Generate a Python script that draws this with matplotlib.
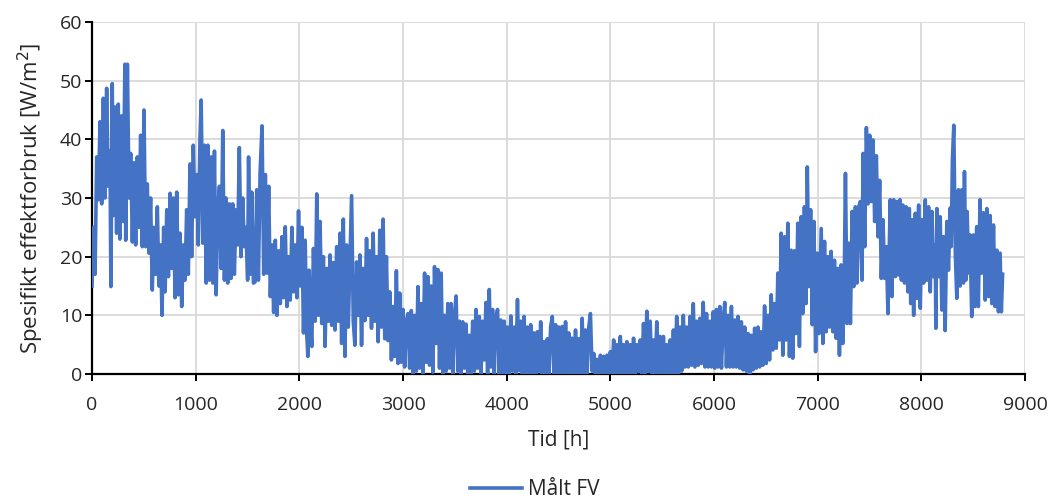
import matplotlib
matplotlib.use("Agg")
import matplotlib.pyplot as plt

# Timer i året [h] og avlest spesifikt effektforbruk [W/m2] (topper og bunner lest av figuren)
timer = [
    0, 13, 29, 45, 61, 77, 93, 109, 125, 141, 157, 173, 182, 195, 205, 221, 237, 253, 269, 285,
    300, 317, 325, 341, 357, 373, 389, 405, 421, 437, 453, 469, 485, 501, 517, 533, 549, 565, 581, 597,
    613, 630, 645, 661, 675, 691, 705, 721, 737, 753, 769, 785, 801, 817, 833, 849, 865, 881, 897, 913,
    929, 945, 961, 977, 993, 1009, 1025, 1041, 1053, 1069, 1085, 1101, 1117, 1133, 1149, 1165, 1181, 1197, 1213, 1229,
    1245, 1261, 1277, 1293, 1309, 1325, 1341, 1357, 1373, 1389, 1405, 1421, 1437, 1453, 1469, 1485, 1501, 1510, 1525, 1541,
    1557, 1573, 1589, 1605, 1621, 1640, 1656, 1672, 1688, 1704, 1720, 1736, 1752, 1768, 1784, 1800, 1816, 1832, 1848, 1864,
    1880, 1896, 1912, 1928, 1944, 1960, 1976, 1992, 2008, 2024, 2040, 2056, 2072, 2082, 2094, 2110, 2120, 2136, 2152, 2168,
    2184, 2200, 2216, 2232, 2248, 2264, 2280, 2296, 2312, 2328, 2344, 2360, 2376, 2392, 2408, 2424, 2440, 2456, 2472, 2488,
    2504, 2520, 2536, 2552, 2568, 2584, 2600, 2616, 2632, 2648, 2664, 2680, 2696, 2712, 2728, 2744, 2760, 2776, 2792, 2808,
    2824, 2840, 2856, 2872, 2888, 2904, 2920, 2936, 2952, 2968, 2984, 3000, 3016, 3032, 3048, 3064, 3080, 3096, 3112, 3128,
    3144, 3160, 3176, 3192, 3208, 3224, 3240, 3256, 3272, 3288, 3304, 3320, 3336, 3352, 3368, 3384, 3400, 3416, 3432, 3448,
    3464, 3480, 3496, 3512, 3528, 3544, 3560, 3576, 3592, 3608, 3624, 3640, 3656, 3672, 3688, 3704, 3720, 3736, 3752, 3768,
    3784, 3800, 3816, 3832, 3848, 3864, 3880, 3896, 3912, 3928, 3944, 3960, 3976, 3992, 4008, 4024, 4040, 4056, 4072, 4088,
    4104, 4120, 4136, 4152, 4168, 4184, 4200, 4216, 4232, 4248, 4264, 4280, 4296, 4312, 4328, 4344, 4360, 4376, 4392, 4408,
    4424, 4440, 4456, 4472, 4488, 4504, 4520, 4536, 4552, 4568, 4584, 4600, 4616, 4632, 4648, 4664, 4680, 4696, 4712, 4728,
    4744, 4760, 4776, 4792, 4808, 4824, 4840, 4856, 4872, 4888, 4904, 4920, 4936, 4952, 4968, 4984, 5000, 5016, 5032, 5048,
    5064, 5080, 5096, 5112, 5128, 5144, 5160, 5176, 5192, 5208, 5224, 5240, 5256, 5272, 5288, 5304, 5320, 5336, 5352, 5368,
    5384, 5400, 5416, 5432, 5448, 5464, 5480, 5496, 5512, 5528, 5544, 5560, 5576, 5592, 5608, 5624, 5640, 5656, 5672, 5688,
    5704, 5720, 5736, 5752, 5768, 5784, 5800, 5816, 5832, 5848, 5864, 5880, 5896, 5912, 5928, 5944, 5960, 5976, 5992, 6008,
    6024, 6040, 6056, 6072, 6088, 6104, 6120, 6136, 6152, 6168, 6184, 6200, 6216, 6232, 6248, 6264, 6280, 6296, 6312, 6328,
    6344, 6360, 6376, 6392, 6408, 6424, 6440, 6456, 6472, 6488, 6504, 6520, 6536, 6552, 6568, 6584, 6600, 6616, 6632, 6648,
    6664, 6680, 6696, 6712, 6728, 6744, 6760, 6776, 6792, 6808, 6824, 6840, 6856, 6872, 6888, 6900, 6916, 6932, 6948, 6964,
    6980, 6996, 7012, 7034, 7050, 7066, 7082, 7098, 7114, 7130, 7146, 7162, 7178, 7194, 7210, 7226, 7242, 7258, 7268, 7284,
    7300, 7316, 7332, 7348, 7364, 7380, 7396, 7412, 7428, 7438, 7454, 7470, 7486, 7502, 7518, 7534, 7550, 7566, 7582, 7598,
    7614, 7630, 7646, 7662, 7678, 7700, 7716, 7734, 7750, 7766, 7780, 7794, 7808, 7822, 7838, 7854, 7870, 7884, 7898, 7910,
    7926, 7942, 7958, 7974, 7990, 8006, 8022, 8038, 8054, 8070, 8086, 8102, 8118, 8134, 8140, 8150, 8166, 8182, 8198, 8214,
    8230, 8246, 8262, 8278, 8288, 8300, 8313, 8328, 8342, 8358, 8374, 8390, 8406, 8416, 8430, 8442, 8456, 8470, 8486, 8502,
    8518, 8534, 8550, 8566, 8582, 8600, 8616, 8632, 8648, 8664, 8680, 8696, 8712, 8728, 8744, 8760, 8772, 8784,
]

effekt = [
    15, 25, 17, 37, 29.7, 43, 29, 47, 30, 48.7, 32, 38, 14.9, 49.5, 27, 45.5, 24, 46, 23, 44,
    26, 52.8, 22.8, 52.8, 30, 37.6, 22.5, 36, 22, 37, 25, 40.7, 21.7, 45, 21.7, 32.4, 20.6, 30, 14.3, 25,
    17, 28.5, 15, 22, 10, 25, 14, 28, 16.6, 30.8, 18, 30, 13, 31, 13.5, 24, 11.5, 22, 16, 28,
    17, 35.8, 20, 39, 26.8, 34, 22, 40, 46.7, 22.3, 39, 15.5, 39, 16, 37, 15.5, 38, 13.5, 28, 32,
    18, 41.5, 16, 30, 15.5, 29, 16.3, 29, 17, 28, 22, 38.6, 20, 30, 21.7, 25, 16, 37, 17, 31,
    15.5, 15.7, 31.4, 16, 34.2, 42.3, 17, 34, 17.2, 32, 13.2, 22, 10.5, 22.8, 10, 21, 12, 23.4, 13, 25.1,
    11.5, 20, 12.6, 25, 14, 22, 13, 27.8, 15, 25, 7, 22.8, 6.6, 3, 17.7, 8, 4.7, 21.4, 9, 30.7,
    10, 26, 8.6, 20, 4.7, 18, 9, 20.3, 8.3, 19, 7.5, 21.7, 9, 24, 5.2, 26.4, 3, 22, 8, 19,
    30.4, 9, 4.9, 19.1, 10, 20.3, 4.9, 18, 9.1, 23.1, 10, 21, 7.8, 24, 9, 20, 5.5, 24.5, 8, 26.4,
    6, 20, 5.7, 14, 2.4, 11.5, 3, 17.6, 1.8, 13.8, 2, 11, 1.2, 9, 10.3, 1, 10.8, 0, 10, 0.5,
    14.9, 1, 12, 0, 17.2, 2, 16.6, 1.5, 15, 0.3, 18.3, 5.2, 17.8, 1, 17.2, 0, 10, 0.5, 12, 1,
    12, 0, 10, 13.3, 0.5, 9, 0, 8.9, 1, 8.5, 0, 6.6, 0, 9, 0.5, 11, 1, 9.8, 0, 9,
    2.4, 12.2, 0, 14.4, 1.2, 11, 0, 9.5, 11, 0, 9.2, 0, 9, 0, 8, 0, 9.9, 0.5, 8, 0,
    12.7, 0.6, 9, 0, 9.8, 0, 8, 0, 8.4, 0, 7, 0, 7.2, 0.5, 8.9, 0, 5.5, 0, 6, 0,
    8, 9.8, 0, 8.4, 0, 8, 0, 8.1, 0, 8.9, 0, 7, 0, 6.1, 0, 7.5, 0, 6, 0, 9.5,
    0, 7.5, 0, 8, 10.3, 0.5, 3.5, 0, 2.5, 0, 3.2, 0, 3, 0, 3.2, 0, 3.8, 0, 5.8, 0,
    5, 0, 6.4, 0, 5, 0, 5.5, 0, 5, 0, 6.1, 0, 5, 0.4, 5.8, 0, 8.6, 0, 10.7, 0.4,
    9, 0, 5.8, 0, 8.9, 0, 6.4, 0, 6.4, 0, 5, 0, 5.8, 0, 7.5, 0, 9.8, 0, 8, 0.5,
    10, 1.2, 8, 1.2, 9.8, 1.5, 12, 1.2, 9, 1.5, 9.5, 1.8, 12.2, 1.2, 10.3, 1.2, 9, 1.2, 10.6, 1,
    11, 1.2, 11.5, 1, 9, 12.2, 1.2, 10, 1.2, 11.5, 1.2, 9.2, 1.2, 9.8, 1, 8.9, 0.7, 8, 0.5, 6.9,
    0, 6.6, 0.7, 7.8, 1, 8, 1.2, 7.2, 1.5, 11.6, 1.8, 10, 2.4, 13.5, 4.1, 12, 4.4, 17.2, 5.8, 24,
    3.2, 23.4, 5.8, 25.7, 3, 21.1, 2.7, 21, 6.9, 25.7, 4.7, 26.8, 10.3, 28.5, 12, 35.3, 14.9, 28, 8.4, 26,
    3.8, 20.6, 6.9, 24.8, 5.2, 22.6, 7.2, 20, 8, 20.9, 7.2, 19.4, 6.1, 18, 3.2, 18.6, 5.2, 18, 34.2, 8.6,
    22.3, 8.6, 27.7, 14.9, 28.5, 15.5, 28.5, 29.4, 16, 37.6, 21.7, 42, 29, 40.7, 29.4, 39.9, 26, 37.2, 23.4, 33,
    16.3, 26.3, 16.3, 21.7, 10.3, 29.7, 13.2, 29.7, 16.6, 29.4, 16.9, 29.7, 16, 28.8, 15.5, 28.5, 14, 28.2, 12, 26.3,
    10, 27.4, 12.9, 28.8, 11.2, 26.3, 15.5, 29.7, 16, 28.5, 14, 27.7, 16.6, 22, 7.8, 28.2, 16.6, 26.8, 10.9, 23.4,
    7.4, 26, 17.7, 28.3, 21.7, 36.5, 42.4, 20.6, 12.9, 31.4, 15, 31.4, 15.5, 34.5, 16, 27.7, 17.2, 23.7, 9.8, 23.7,
    11.5, 25.1, 11.5, 29.7, 17.2, 27.5, 12.6, 28.2, 13.2, 27, 12, 25.4, 11.5, 21.1, 10.6, 20.6, 10.6, 17,
]

x_ticks = [0, 1000, 2000, 3000, 4000, 5000, 6000, 7000, 8000, 9000]
y_ticks = [0, 10, 20, 30, 40, 50, 60]

plt.rcParams['font.family'] = ['Open Sans', 'DejaVu Sans']

fig = plt.figure(figsize=(10.53, 4.99), dpi=100)
ax = fig.add_axes([0.0874, 0.2505, 0.886, 0.7054])

ax.plot(timer, effekt, color='#4472C4', linewidth=2.6, solid_joinstyle='round',
        label='Målt FV', zorder=3)

ax.set_xlim(0, 9000)
ax.set_ylim(0, 60)
ax.set_xticks(x_ticks)
ax.set_yticks(y_ticks)
ax.grid(True, color='#d9d9d9', linewidth=1.3, zorder=0)
ax.set_axisbelow(True)

for side in ['top', 'right']:
    ax.spines[side].set_visible(False)
for side in ['left', 'bottom']:
    ax.spines[side].set_linewidth(1.6)
    ax.spines[side].set_color('black')
ax.tick_params(direction='out', length=5, width=1.4, labelsize=14, colors='black',
               labelcolor='#262626')
ax.tick_params(axis='x', pad=11)
ax.tick_params(axis='y', pad=2)

ax.set_xlabel('Tid [h]', fontsize=15, color='#262626', labelpad=11)
ax.set_ylabel('Spesifikt effektforbruk [W/m$^2$]', fontsize=16, color='#262626', labelpad=10)

fig.legend(loc='lower center', bbox_to_anchor=(0.508, -0.04), frameon=False,
           fontsize=15, handlelength=2.5, handletextpad=0.3, labelcolor='#262626')

fig.savefig('out.png', dpi=100)
